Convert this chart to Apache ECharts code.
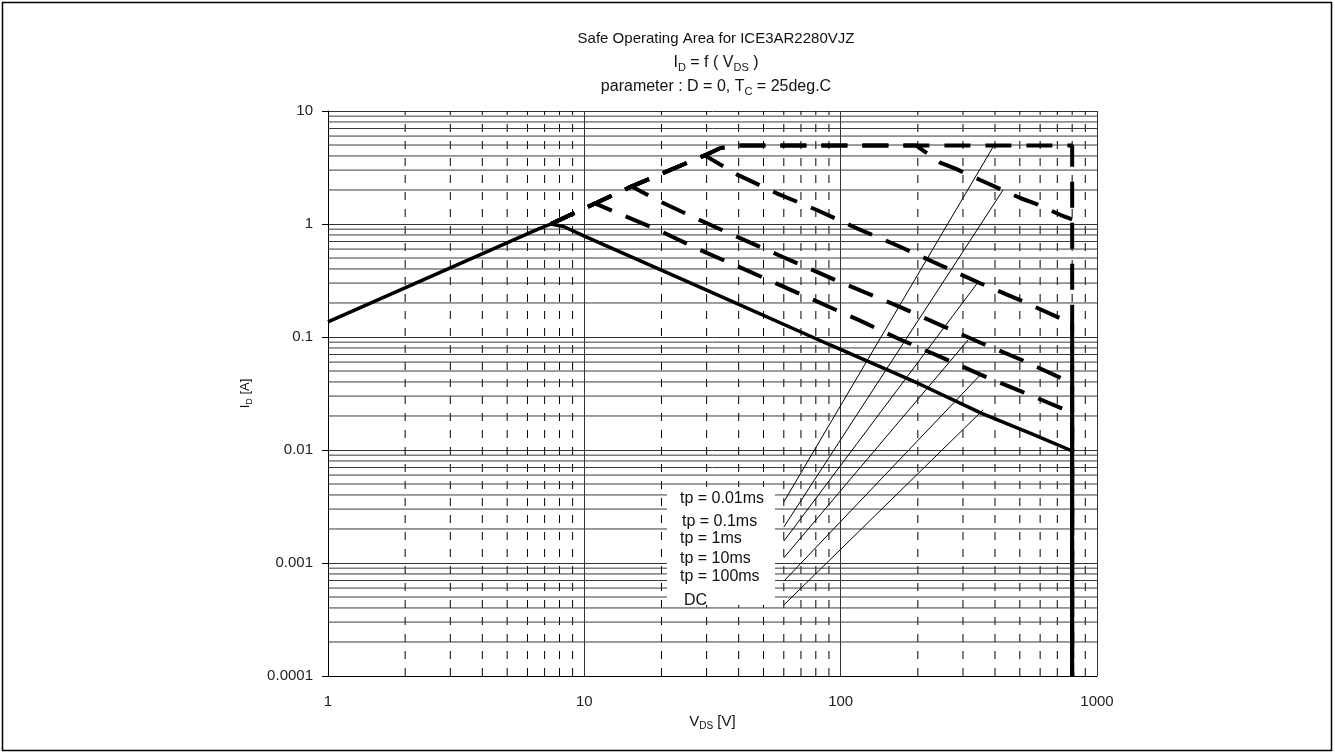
<!DOCTYPE html>
<html>
<head>
<meta charset="utf-8">
<title>Safe Operating Area for ICE3AR2280VJZ</title>
<script src="https://cdn.jsdelivr.net/npm/echarts@6/dist/echarts.min.js"></script>
<style>
html, body { margin: 0; padding: 0; background: #fff; }
#chart { width: 1335px; height: 754px; }
</style>
</head>
<body>
<div id="chart"></div>
<script>
// curves, [V_DS in V, I_D in A]
const dc = [[1, 0.136], [6.6, 0.9], [7.4, 1.0], [8.3, 0.95], [10, 0.78], [30, 0.26], [91, 0.085], [200, 0.039], [355, 0.0211], [560, 0.0138], [800, 0.0098], [800, 0.0001]];
const tp100ms = [[7.4, 1.0], [11, 1.52], [19.4, 0.885], [27.8, 0.6], [39.9, 0.419], [118, 0.141], [169, 0.096], [244, 0.067], [355, 0.046], [509, 0.0328], [729, 0.0234], [800, 0.0215], [800, 0.0001]];
const tp10ms = [[7.4, 1.0], [11, 1.52], [15.3, 2.15], [19.4, 1.61], [27.8, 1.1], [39.9, 0.762], [57.1, 0.532], [95, 0.32], [170, 0.185], [244, 0.128], [355, 0.088], [509, 0.0626], [729, 0.043], [800, 0.039], [800, 0.0001]];
const tp1ms = [[7.4, 1.0], [11, 1.52], [15.3, 2.15], [29.5, 4.05], [39.3, 2.75], [56.3, 1.87], [80.7, 1.33], [115.6, 0.916], [168, 0.639], [244, 0.434], [350, 0.299], [501, 0.212], [718, 0.1465], [800, 0.132], [800, 0.0001]];
const tp01ms = [[7.4, 1.0], [11, 1.52], [15.3, 2.15], [29.5, 4.05], [34, 4.7], [40, 4.95], [197, 4.95], [244, 3.5], [279, 3.11], [350, 2.45], [400, 2.14], [504, 1.69], [582, 1.5], [722, 1.2], [800, 1.1]];
const tp001ms = [[7.4, 1.0], [11, 1.52], [15.3, 2.15], [29.5, 4.05], [34, 4.7], [40, 4.95], [800, 4.95], [800, 0.0001]];

// leader lines from the labels to their curves
const leaders = [
    [[60, 0.00347], [393, 4.8]],
    [[60, 0.00208], [430, 2.0]],
    [[60, 0.00156], [344, 0.307]],
    [[60, 0.00111], [314, 0.094]],
    [[60, 0.00069], [350, 0.046]],
    [[60, 0.000425], [359, 0.0226]]
];
const labelTexts = ['tp = 0.01ms', 'tp = 0.1ms', 'tp = 1ms', 'tp = 10ms', 'tp = 100ms', 'DC'];
const labelY = [499, 522, 539, 559, 577, 601];
const labelX = [680, 682, 680, 680, 680, 684];

// minor grid values
const xDecades = [1, 10, 100];
const yDecades = [0.0001, 0.001, 0.01, 0.1, 1];
const mults = [2, 3, 4, 5, 6, 7, 8, 9];

const FONT = '"Liberation Sans", Arial, sans-serif';

const chart = echarts.init(document.getElementById('chart'));

const series = [];

// minor grid lines, drawn as plain lines through the log axes
xDecades.forEach(d => mults.forEach(m => {
    const x = +(d * m).toPrecision(3);
    series.push({ type: 'line', data: [[x, 0.0001], [x, 10]], symbol: 'none', silent: true, z: 1,
        lineStyle: { color: '#000', width: 1, type: [8, 9] } });
}));
yDecades.forEach(d => mults.forEach(m => {
    const y = +(d * m).toPrecision(3);
    series.push({ type: 'line', data: [[1, y], [1000, y]], symbol: 'none', silent: true, z: 1,
        lineStyle: { color: '#3a3a3a', width: 1 } });
}));

function dashed(name, data) {
    return {
        name: name, type: 'line', data: data, symbol: 'none', z: 10,
        lineStyle: { color: '#000', width: 4, type: [26, 15] }
    };
}

series.push(
    {
        name: 'DC', type: 'line', data: dc, symbol: 'none', z: 11,
        lineStyle: { color: '#000', width: 3.5 }
    },
    dashed('tp = 100ms', tp100ms),
    dashed('tp = 10ms', tp10ms),
    dashed('tp = 1ms', tp1ms),
    dashed('tp = 0.1ms', tp01ms),
    dashed('tp = 0.01ms', tp001ms)
);
leaders.forEach(l => {
    series.push({ type: 'line', data: l, symbol: 'none', z: 9, lineStyle: { color: '#000', width: 1 } });
});

const sub = {
    n: { fontSize: 16, lineHeight: 20, fontWeight: 'normal', fontFamily: FONT, color: '#111' },
    s: { fontSize: 11, lineHeight: 10, fontWeight: 'normal', verticalAlign: 'bottom', fontFamily: FONT, color: '#111' }
};
const axisSub = {
    n: { fontSize: 15, lineHeight: 20, fontWeight: 'normal', fontFamily: FONT, color: '#111' },
    s: { fontSize: 10, lineHeight: 10, fontWeight: 'normal', verticalAlign: 'bottom', fontFamily: FONT, color: '#111' }
};

const graphics = [
    { type: 'rect', z: 20, shape: { x: 667, y: 487, width: 108, height: 118 }, style: { fill: '#fff' } },
    { type: 'rect', z: 30, shape: { x: 2.5, y: 2.5, width: 1329, height: 748 }, style: { fill: 'none', stroke: '#000', lineWidth: 1.5 } }
];
labelTexts.forEach((t, i) => {
    graphics.push({
        type: 'text', z: 21, x: labelX[i], y: labelY[i],
        style: { text: t, fill: '#111', font: '16px ' + FONT, verticalAlign: 'middle' }
    });
});

const option = {
    animation: false,
    textStyle: { fontFamily: FONT },
    title: [
        { text: 'Safe Operating Area for ICE3AR2280VJZ', left: 716, top: 31, textAlign: 'center', padding: 0,
          textStyle: { fontSize: 15, fontWeight: 'normal', color: '#111', fontFamily: FONT } },
        { text: '{n|I}{s|D}{n| = f ( V}{s|DS}{n| )}', left: 716, top: 53, textAlign: 'center', padding: 0,
          textStyle: { fontWeight: 'normal', rich: sub } },
        { text: '{n|parameter : D = 0, T}{s|C}{n| = 25deg.C}', left: 716, top: 77, textAlign: 'center', padding: 0,
          textStyle: { fontWeight: 'normal', rich: sub } }
    ],
    grid: { left: 328, right: 238, top: 111, bottom: 78 },
    xAxis: {
        type: 'log', logBase: 10, min: 1, max: 1000,
        axisLine: { show: true, lineStyle: { color: '#000', width: 1 } },
        axisTick: { show: false },
        axisLabel: { margin: 18, fontSize: 15, color: '#222', fontFamily: FONT,
            formatter: v => String(parseFloat(Number(v).toPrecision(3))) },
        splitLine: { show: true, lineStyle: { color: '#333', width: 1 } },
        name: '{n|V}{s|DS}{n| [V]}', nameLocation: 'middle', nameGap: 33,
        nameTextStyle: { rich: axisSub }
    },
    yAxis: {
        type: 'log', logBase: 10, min: 0.0001, max: 10,
        axisLine: { show: true, lineStyle: { color: '#000', width: 1 } },
        axisTick: { show: true, length: 6, lineStyle: { color: '#000' } },
        axisLabel: { margin: 15, fontSize: 15, color: '#222', fontFamily: FONT,
            formatter: v => String(parseFloat(Number(v).toPrecision(3))) },
        splitLine: { show: true, lineStyle: { color: '#333', width: 1 } },
        name: '{n|I}{s|D}{n| [A]}', nameLocation: 'middle', nameGap: 74, nameRotate: 90,
        nameTextStyle: { rich: {
            n: { fontSize: 13, lineHeight: 18, fontFamily: FONT, color: '#111' },
            s: { fontSize: 9, lineHeight: 9, verticalAlign: 'bottom', fontFamily: FONT, color: '#111' }
        } }
    },
    graphic: graphics,
    series: series
};

chart.setOption(option);
</script>
</body>
</html>
